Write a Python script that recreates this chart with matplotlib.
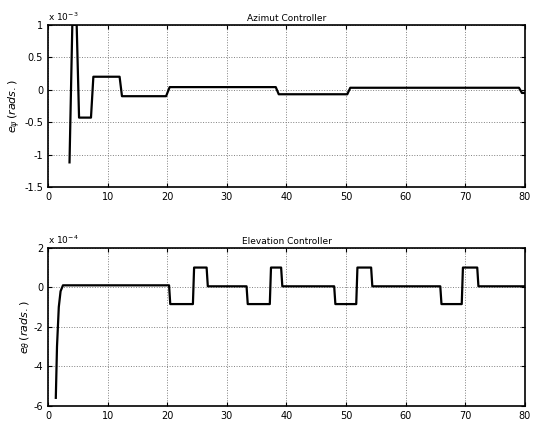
import numpy as np
import matplotlib.pyplot as plt

# Azimut controller error (x 1e-3 rads)
t_az = [3.6, 4.07, 4.8, 5.2, 7.2, 7.6, 12.0, 12.4, 19.8, 20.4, 38.2, 38.7, 50.2, 50.7, 79.0, 79.5, 80]
e_az = [-1.12, 1.0, 1.0, -0.43, -0.43, 0.2, 0.2, -0.1, -0.1, 0.04, 0.04, -0.07, -0.07, 0.03, 0.03, -0.05, -0.05]

# Elevation controller error (x 1e-4 rads)
t_el = [1.3, 1.5, 1.8, 2.1, 2.5, 20.3, 20.5, 24.3, 24.5, 26.6, 26.8, 33.3, 33.5, 37.2, 37.4, 39.1, 39.3,
        48.0, 48.2, 51.7, 51.9, 54.2, 54.4, 65.8, 66.0, 69.4, 69.6, 72.0, 72.2, 80]
e_el = [-5.6, -3.0, -1.0, -0.2, 0.1, 0.1, -0.85, -0.85, 1.0, 1.0, 0.05, 0.05, -0.85, -0.85, 1.0, 1.0, 0.05,
        0.05, -0.85, -0.85, 1.0, 1.0, 0.05, 0.05, -0.85, -0.85, 1.0, 1.0, 0.05, 0.05]

fig = plt.figure(figsize=(5.34, 4.28), dpi=100)
ax1 = fig.add_axes([0.09, 0.563, 0.893, 0.379])
ax2 = fig.add_axes([0.09, 0.052, 0.893, 0.369])

for ax, t, e, scale, ylim, yt, title, ylab, exp in [
    (ax1, t_az, e_az, 1e-3, (-1.5e-3, 1e-3), np.arange(-1.5, 1.01, 0.5), "Azimut Controller",
     r"$e_{\psi}\,(rads.)$", -3),
    (ax2, t_el, e_el, 1e-4, (-6e-4, 2e-4), np.arange(-6, 2.1, 2), "Elevation Controller",
     r"$e_{\theta}\,(rads.)$", -4),
]:
    ax.plot(t, np.array(e) * scale, color="black", linewidth=1.6)
    ax.set_xlim(0, 80)
    ax.set_ylim(*ylim)
    ax.set_xticks(range(0, 81, 10))
    ax.set_yticks(yt * scale)
    ax.set_yticklabels([f"{v:g}" for v in yt])
    ax.grid(True, linestyle=":", color="gray", linewidth=0.7)
    ax.tick_params(direction="in", labelsize=7, length=3, top=True, right=True)
    ax.set_title(title, fontsize=6.5, pad=3)
    ax.set_ylabel(ylab, fontsize=8, labelpad=1)
    ax.text(0.0, 1.01, r"x $10^{%d}$" % exp, transform=ax.transAxes, fontsize=6.5, va="bottom")
    for s in ax.spines.values():
        s.set_linewidth(1.2)

fig.savefig("out.png", dpi=100)
